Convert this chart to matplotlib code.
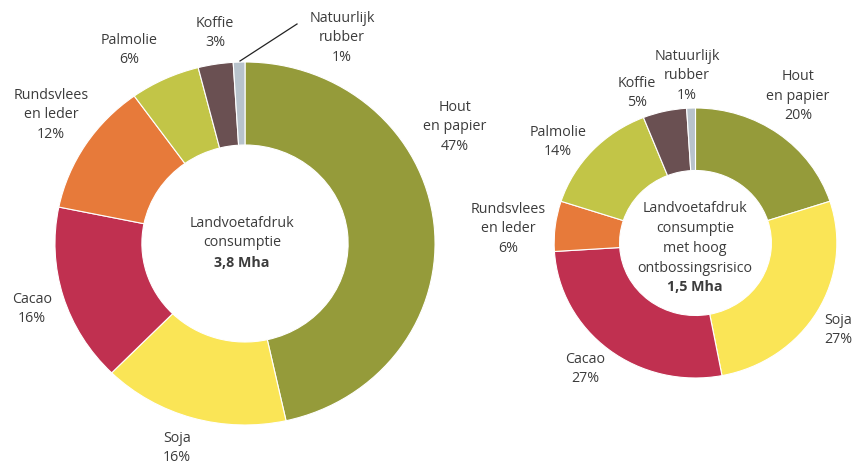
import matplotlib
matplotlib.use("Agg")
import matplotlib.pyplot as plt

# ── data ─────────────────────────────────────────────────────────────
categories = ["Hout\nen papier", "Soja", "Cacao", "Rundsvlees\nen leder",
              "Palmolie", "Koffie", "Natuurlijk\nrubber"]
left_pct = [47, 16, 16, 12, 6, 3, 1]
right_pct = [20, 27, 27, 6, 14, 5, 1]
left_title = "Landvoetafdruk\nconsumptie"
left_total = "3,8 Mha"
right_title = "Landvoetafdruk\nconsumptie\nmet hoog\nontbossingsrisico"
right_total = "1,5 Mha"

COLORS = ["#959B3A", "#FAE556", "#C03050", "#E77A3A",
          "#C2C547", "#6A5052", "#B8C3CC"]
TEXT = "#3C3C3C"

W, H = 856, 465
SX = 1.047  # the source image is slightly stretched horizontally

plt.rcParams["font.family"] = ["Open Sans", "DejaVu Sans"]

fig = plt.figure(figsize=(W / 100, H / 100), dpi=100)
ax = fig.add_axes([0, 0, 1, 1])


def px(x, y):
    # image pixel -> data coords
    return x / SX, H - y


def donut(cx, cy, r_out, r_in, values):
    ax.pie(values, colors=COLORS, startangle=90, counterclock=False,
           center=px(cx, cy), radius=r_out, frame=True,
           wedgeprops=dict(width=r_out - r_in, edgecolor="white", linewidth=0.8))


def label(x, y, s, **kw):
    ax.text(*px(x, y), s, ha="center", va="center", fontsize=10.3,
            color=TEXT, linespacing=1.45, **kw)


donut(245, 243.5, 181.5, 98.5, left_pct)
donut(695.5, 243, 135, 72.5, right_pct)

# left labels (position of label block centre in image pixels)
left_pos = [(455, 127), (177, 448), (32, 309), (51, 115),
            (129, 50), (215, 33), (342, 38)]
for name, v, (x, y) in zip(categories, left_pct, left_pos):
    label(x, y, f"{name}\n{v}%")
ax.plot(*zip(px(240, 61), px(297, 24)), color="#222222", lw=0.9)

right_pos = [(798, 96), (838, 330), (585, 369), (508, 229),
             (558, 142), (637, 93), (687, 76)]
for name, v, (x, y) in zip(categories, right_pct, right_pos):
    label(x, y, f"{name}\n{v}%")

# centre texts
label(242, 233, left_title)
label(242, 263, left_total, fontweight="bold")
label(695, 238.5, right_title)
label(695, 287, right_total, fontweight="bold")

ax.set_aspect("auto")
ax.set_xlim(0, W / SX)
ax.set_ylim(0, H)
ax.set_axis_off()

fig.savefig("out.png", dpi=100)
